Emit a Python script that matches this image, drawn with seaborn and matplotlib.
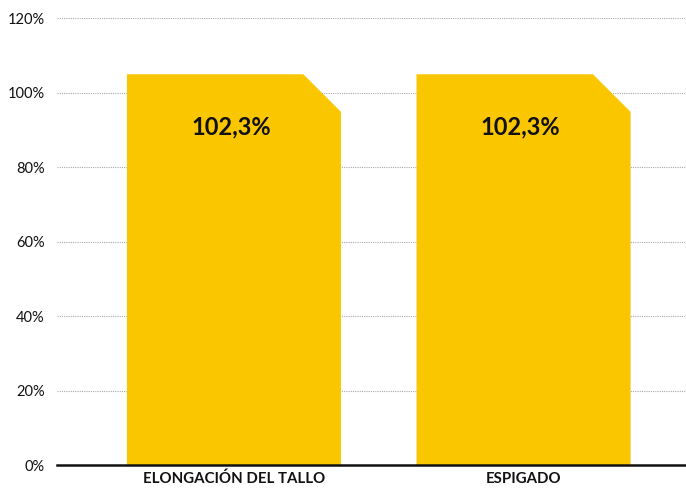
import matplotlib
matplotlib.use("Agg")
import matplotlib.pyplot as plt
from matplotlib.patches import Polygon
import seaborn as sns
import pandas as pd

# -- chart data
categories = ["ELONGACIÓN DEL TALLO", "ESPIGADO"]
bar_heights = [104.9, 104.9]   # drawn height
labels = ["102,3%", "102,3%"]
yticks = [0, 20, 40, 60, 80, 100, 120]

df = pd.DataFrame({"cat": categories, "val": bar_heights})

sns.set_theme(style="white")
plt.rcParams["font.family"] = ["Lato", "DejaVu Sans"]

fig = plt.figure(figsize=(6.86, 4.90), dpi=100)
ax = fig.add_axes([57/686, 1 - 465/490, 1 - 57/686, (465 - 18)/490])

sns.barplot(data=df, x="cat", y="val", color="#F9C600", width=0.739,
            saturation=1, ax=ax, zorder=2)

# -- cut the top right corner of each bar
cut_x = 0.13
cut_y = 10.1
for p in list(ax.patches):
    x0, w, h = p.get_x(), p.get_width(), p.get_height()
    poly = Polygon([(x0, 0), (x0, h), (x0 + w - cut_x, h), (x0 + w, h - cut_y), (x0 + w, 0)],
                   closed=True, facecolor=p.get_facecolor(), edgecolor="none", zorder=2)
    p.remove()
    ax.add_patch(poly)

for i, lab in enumerate(labels):
    ax.text(i - 0.01, 90.7, lab, ha="center", va="center", fontsize=17,
            fontweight="bold", color="#111111", zorder=3)

ax.set_ylim(0, 120)
ax.set_xlim(-0.611, 1.561)
ax.set_yticks(yticks)
ax.set_yticklabels([f"{t}%" for t in yticks], fontsize=10.5, color="#111111")
ax.set_xticklabels(categories, fontsize=10.8, fontweight="bold", color="#111111")
ax.set_xlabel("")
ax.set_ylabel("")
for t in yticks[1:]:
    ax.axhline(t, color="#aaaaaa", linestyle=(0, (1, 1)), linewidth=0.8, zorder=1)

for s in ["top", "right", "left"]:
    ax.spines[s].set_visible(False)
ax.spines["bottom"].set_color("#111111")
ax.spines["bottom"].set_linewidth(1.8)
ax.spines["bottom"].set_zorder(4)
ax.tick_params(axis="both", length=0, pad=9)
ax.tick_params(axis="x", pad=5)

fig.savefig("out.png", dpi=100)
